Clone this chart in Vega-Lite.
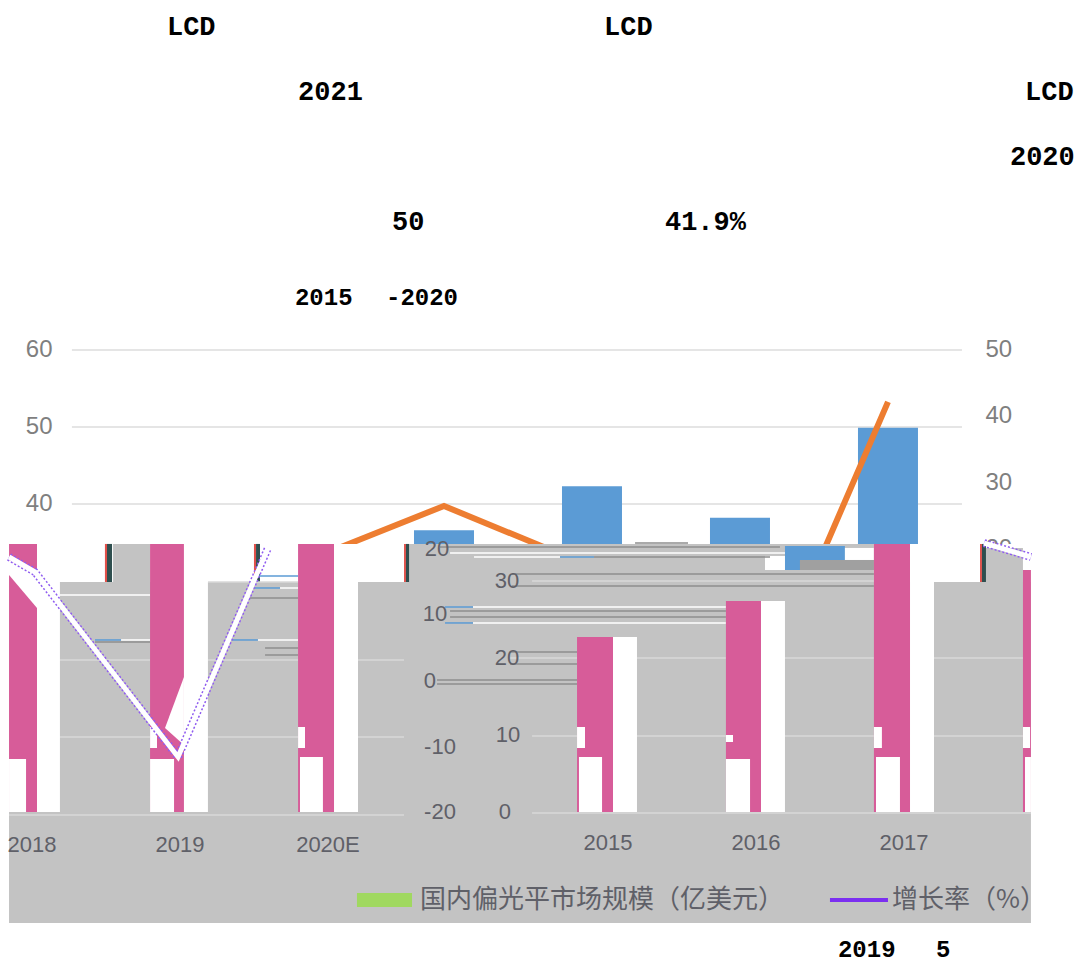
{
"$schema":"https://vega.github.io/schema/vega-lite/v6.json",
"width":1082,"height":965,"padding":0,
"autosize":{"type":"none"},
"background":"white",
"config":{"view":{"stroke":null}},
"datasets":{
"grid":[{"year":2011.486,"year2":2017.5,"value":60,"kind":"light"},{"year":2011.486,"year2":2017.5,"value":50,"kind":"light"},{"year":2011.486,"year2":2017.5,"value":40,"kind":"light"}],
"market":[{"year":2014,"value":36.6},{"year":2015,"value":42.3},{"year":2016,"value":38.2},{"year":2017,"value":49.9}],
"growth":[{"year":2013,"value":17.5},{"year":2014,"value":26.4},{"year":2015,"value":17.2},{"year":2016,"value":-9.6},{"year":2017,"value":42.1}],
"under":[
{"year":2011.061,"year2":2017.966,"value":34.81,"value2":-14.42,"kind":"white"},
{"year":2011.061,"year2":2017.966,"value":29.87,"value2":-14.42,"kind":"gray"},
{"year":2011.764,"year2":2012.014,"value":34.81,"value2":29.87,"kind":"gray"},
{"year":2013.757,"year2":2016.905,"value":34.81,"value2":29.87,"kind":"gray"},
{"year":2017.649,"year2":2017.912,"value":34.29,"value2":29.87,"kind":"gray"},
{"year":2016.304,"year2":2016.709,"value":34.55,"value2":31.43,"kind":"blue"},
{"year":2016.709,"year2":2016.905,"value":34.29,"value2":32.73,"kind":"white"},
{"year":2016.405,"year2":2016.905,"value":32.73,"value2":31.43,"kind":"darkgray"},
{"year":2016.169,"year2":2016.304,"value":33.25,"value2":31.43,"kind":"white"},
{"year":2011.709,"year2":2011.723,"value":34.81,"value2":29.87,"kind":"red"},
{"year":2011.723,"year2":2011.757,"value":34.81,"value2":29.87,"kind":"slate"},
{"year":2012.716,"year2":2012.73,"value":34.81,"value2":29.87,"kind":"red"},
{"year":2012.73,"year2":2012.757,"value":34.81,"value2":29.87,"kind":"slate"},
{"year":2013.73,"year2":2013.743,"value":34.81,"value2":29.87,"kind":"red"},
{"year":2013.743,"year2":2013.764,"value":34.81,"value2":29.87,"kind":"slate"},
{"year":2017.622,"year2":2017.635,"value":34.81,"value2":29.87,"kind":"red"},
{"year":2017.635,"year2":2017.662,"value":34.81,"value2":29.87,"kind":"slate"}
],
"streaks":[
{"year":2011.405,"year2":2012.014,"value":28.18,"kind":"white"},
{"year":2011.642,"year2":2011.818,"value":22.34,"kind":"blue"},
{"year":2011.818,"year2":2012.014,"value":22.34,"kind":"white"},
{"year":2011.642,"year2":2012.014,"value":22.08,"kind":"dark"},
{"year":2011.405,"year2":2012.014,"value":19.74,"kind":"light"},
{"year":2011.405,"year2":2012.014,"value":9.74,"kind":"light"},
{"year":2012.405,"year2":2013.014,"value":19.74,"kind":"light"},
{"year":2012.405,"year2":2013.014,"value":9.74,"kind":"light"},
{"year":2013.419,"year2":2013.73,"value":19.74,"kind":"light"},
{"year":2013.419,"year2":2013.73,"value":9.74,"kind":"light"},
{"year":2012.405,"year2":2013.014,"value":29.87,"kind":"light"},
{"year":2012.568,"year2":2012.743,"value":22.34,"kind":"blue"},
{"year":2012.743,"year2":2013.014,"value":22.34,"kind":"white"},
{"year":2012.743,"year2":2013.014,"value":30.65,"kind":"blue"},
{"year":2012.723,"year2":2012.892,"value":29.09,"kind":"blue"},
{"year":2012.892,"year2":2013.014,"value":29.09,"kind":"white"},
{"year":2012.689,"year2":2013.014,"value":27.79,"kind":"dark"},
{"year":2012.791,"year2":2013.014,"value":21.3,"kind":"dark"},
{"year":2012.791,"year2":2013.014,"value":20.39,"kind":"dark"},
{"year":2011.061,"year2":2013.73,"value":-0.39,"kind":"light"},
{"year":2014.446,"year2":2014.899,"value":20,"kind":"light"},
{"year":2015.304,"year2":2015.905,"value":20,"kind":"light"},
{"year":2016.142,"year2":2016.905,"value":20,"kind":"light"},
{"year":2017.311,"year2":2017.912,"value":20,"kind":"light"},
{"year":2014.595,"year2":2017.912,"value":9.87,"kind":"light"},
{"year":2014.595,"year2":2017.966,"value":-0.13,"kind":"light"},
{"year":2013.973,"year2":2016.27,"value":34.42,"kind":"dark"},
{"year":2014.041,"year2":2016.304,"value":33.64,"kind":"white"},
{"year":2014.203,"year2":2014.784,"value":33.12,"kind":"white"},
{"year":2014.784,"year2":2015.014,"value":33.12,"kind":"blue"},
{"year":2015.014,"year2":2016.203,"value":33.12,"kind":"dark"},
{"year":2014.459,"year2":2016.905,"value":30.91,"kind":"dark"},
{"year":2014.459,"year2":2016.905,"value":29.35,"kind":"dark"},
{"year":2014.595,"year2":2016.905,"value":30,"kind":"light"},
{"year":2014.196,"year2":2015.905,"value":26.62,"kind":"white"},
{"year":2014.196,"year2":2015.905,"value":24.55,"kind":"white"},
{"year":2014.041,"year2":2015.905,"value":26.1,"kind":"dark"},
{"year":2014.041,"year2":2015.905,"value":25.32,"kind":"dark"},
{"year":2014.007,"year2":2014.196,"value":26.62,"kind":"blue"},
{"year":2014.007,"year2":2014.196,"value":24.55,"kind":"blue"},
{"year":2014.446,"year2":2014.899,"value":20.78,"kind":"dark"},
{"year":2014.446,"year2":2014.899,"value":19.22,"kind":"dark"},
{"year":2013.953,"year2":2014.899,"value":17.14,"kind":"dark"},
{"year":2013.953,"year2":2014.899,"value":16.62,"kind":"dark"},
{"year":2015.291,"year2":2015.649,"value":34.94,"kind":"dark"}
],
"over":[
{"year":2011.061,"year2":2011.25,"value":34.81,"value2":0,"kind":"pink"},
{"year":2011.061,"year2":2011.176,"value":6.88,"value2":0,"kind":"white"},
{"year":2011.25,"year2":2011.405,"value":34.81,"value2":0,"kind":"white"},
{"year":2012.014,"year2":2012.243,"value":34.81,"value2":0,"kind":"pink"},
{"year":2012.014,"year2":2012.176,"value":6.88,"value2":0,"kind":"white"},
{"year":2012.243,"year2":2012.405,"value":34.81,"value2":0,"kind":"white"},
{"year":2012.014,"year2":2012.061,"value":11.04,"value2":8.31,"kind":"white"},
{"year":2013.014,"year2":2013.257,"value":34.81,"value2":0,"kind":"pink"},
{"year":2013.027,"year2":2013.182,"value":7.14,"value2":0,"kind":"white"},
{"year":2013.257,"year2":2013.419,"value":34.81,"value2":0,"kind":"white"},
{"year":2013.014,"year2":2013.061,"value":11.04,"value2":8.31,"kind":"white"},
{"year":2014.899,"year2":2015.142,"value":22.73,"value2":0,"kind":"pink"},
{"year":2014.912,"year2":2015.068,"value":7.14,"value2":0,"kind":"white"},
{"year":2015.142,"year2":2015.304,"value":22.73,"value2":0,"kind":"white"},
{"year":2014.899,"year2":2014.953,"value":11.04,"value2":8.31,"kind":"white"},
{"year":2015.905,"year2":2016.142,"value":27.4,"value2":0,"kind":"pink"},
{"year":2015.905,"year2":2016.068,"value":6.88,"value2":0,"kind":"white"},
{"year":2016.142,"year2":2016.304,"value":27.4,"value2":0,"kind":"white"},
{"year":2015.905,"year2":2015.953,"value":10,"value2":9.09,"kind":"white"},
{"year":2016.905,"year2":2017.149,"value":34.81,"value2":0,"kind":"pink"},
{"year":2016.919,"year2":2017.081,"value":7.14,"value2":0,"kind":"white"},
{"year":2017.149,"year2":2017.311,"value":34.81,"value2":0,"kind":"white"},
{"year":2016.905,"year2":2016.959,"value":11.04,"value2":8.31,"kind":"white"},
{"year":2017.912,"year2":2017.966,"value":31.43,"value2":0,"kind":"pink"},
{"year":2017.926,"year2":2017.966,"value":7.14,"value2":0,"kind":"white"},
{"year":2017.912,"year2":2017.96,"value":11.04,"value2":8.31,"kind":"white"},
{"year":2013.412,"year2":2013.784,"value":-10.52,"value2":-12.34,"kind":"green"},
{"year":2016.608,"year2":2017,"value":-11.17,"value2":-11.69,"kind":"purple"}
],
"wedges":[
{"series":"a","year":2011.061,"value":32.73,"value2":30.78},{"series":"a","year":2011.25,"value":30.78,"value2":26.49},
{"series":"b","year":2012.115,"value":10.91,"value2":10.91},{"series":"b","year":2012.243,"value":17.53,"value2":8.7}
],
"trend":[
{"series":"a","year":2011.061,"value":18.7},{"series":"a","year":2011.236,"value":16.44},{"series":"a","year":2012.203,"value":-11.46},{"series":"a","year":2012.811,"value":20.06},
{"series":"b","year":2017.649,"value":20.8},{"series":"b","year":2017.966,"value":18.7}
],
"ticks":[
{"year":2013.953,"value":34.16,"label":"20"},{"year":2014.426,"value":30,"label":"30"},{"year":2013.939,"value":25.71,"label":"10"},{"year":2014.426,"value":20,"label":"20"},{"year":2013.905,"value":17.01,"label":"0"},{"year":2014.432,"value":10,"label":"10"},{"year":2013.973,"value":8.44,"label":"-10"},{"year":2013.973,"value":0,"label":"-20"},{"year":2014.412,"value":0,"label":"0"},
{"year":2011.216,"value":-4.29,"label":"2018"},{"year":2012.216,"value":-4.29,"label":"2019"},{"year":2013.216,"value":-4.29,"label":"2020E"},{"year":2015.108,"value":-4.03,"label":"2015"},{"year":2016.108,"value":-4.03,"label":"2016"},{"year":2017.108,"value":-4.03,"label":"2017"}
],
"legend":[{"year":2013.838,"value":-11.43,"label":"国内偏光平市场规模（亿美元）"},{"year":2017.027,"value":-11.43,"label":"增长率（%）"}],
"head":[
{"year":2012.128,"value":101.95,"label":"LCD"},{"year":2015.081,"value":101.95,"label":"LCD"},{"year":2013.014,"value":93.51,"label":"2021"},{"year":2017.926,"value":93.51,"label":"LCD"},{"year":2017.824,"value":85.06,"label":"2020"},{"year":2013.649,"value":76.62,"label":"50"},{"year":2015.493,"value":76.62,"label":"41.9%"}
],
"note":[{"year":2012.993,"value":66.75,"label":"2015"},{"year":2013.608,"value":66.75,"label":"-2020"},{"year":2016.662,"value":-17.92,"label":"2019"},{"year":2017.324,"value":-17.92,"label":"5"}]
},
"encoding":{
"x":{"field":"year","type":"quantitative","scale":{"domain":[2011,2018.311],"nice":false,"zero":false,"padding":0},"axis":null},
"y":{"field":"value","type":"quantitative","scale":{"domain":[-19.87,105.45],"nice":false,"zero":false},"axis":null}
},
"layer":[
{"data":{"name":"grid"},"mark":{"type":"rule","strokeWidth":1.5,"color":"#dddddd"},
 "encoding":{"x2":{"field":"year2"},
 "y":{"field":"value","type":"quantitative","scale":{"domain":[-19.87,105.45],"nice":false,"zero":false},
  "axis":{"orient":"left","values":[40,50,60],"offset":-52,"domain":false,"ticks":false,"grid":false,"labelPadding":0,"labelFont":"Liberation Sans","labelFontSize":24,"labelColor":"#7f7f7f","title":null}}}},
{"data":{"name":"market"},"mark":{"type":"bar","width":60,"color":"#5b9bd5","orient":"vertical"},
 "encoding":{"y2":{"datum":0}}},
{"data":{"name":"growth"},"mark":{"type":"line","color":"#ed7d31","strokeWidth":6},
 "encoding":{"y":{"field":"value","type":"quantitative","scale":{"domain":[-42.84,102.71],"nice":false,"zero":false},
  "axis":{"orient":"right","values":[20,30,40,50],"offset":-97,"domain":false,"ticks":false,"grid":false,"labelPadding":0,"labelFont":"Liberation Sans","labelFontSize":24,"labelColor":"#7f7f7f","title":null}}}},
{"data":{"name":"under"},"mark":{"type":"rect"},
 "encoding":{"x2":{"field":"year2"},"y2":{"field":"value2"},
 "color":{"field":"kind","type":"nominal","legend":null,"scale":{"domain":["white","gray","pink","blue","darkgray","red","slate","green","purple","dark","light"],"range":["#ffffff","#c3c3c3","#d75c99","#5b9bd5","#a0a0a0","#e0504a","#2f4f4f","#a0d860","#7b2ff0","#8e8e8e","#d9d9d9"]}}}},
{"data":{"name":"streaks"},"mark":{"type":"rule","strokeWidth":1.5},
 "encoding":{"x2":{"field":"year2"},
 "color":{"field":"kind","type":"nominal","legend":null,"scale":{"domain":["white","gray","pink","blue","darkgray","red","slate","green","purple","dark","light"],"range":["#ffffff","#c3c3c3","#d75c99","#5b9bd5","#a0a0a0","#e0504a","#2f4f4f","#a0d860","#7b2ff0","#8e8e8e","#d9d9d9"]}}}},
{"data":{"name":"over"},"mark":{"type":"rect"},
 "encoding":{"x2":{"field":"year2"},"y2":{"field":"value2"},
 "color":{"field":"kind","type":"nominal","legend":null,"scale":{"domain":["white","gray","pink","blue","darkgray","red","slate","green","purple","dark","light"],"range":["#ffffff","#c3c3c3","#d75c99","#5b9bd5","#a0a0a0","#e0504a","#2f4f4f","#a0d860","#7b2ff0","#8e8e8e","#d9d9d9"]}}}},
{"data":{"name":"wedges"},"mark":{"type":"area","color":"#ffffff","opacity":1},
 "encoding":{"detail":{"field":"series"},"y2":{"field":"value2"}}},
{"data":{"name":"trend"},"mark":{"type":"line","color":"#8f5cf0","strokeWidth":8,"strokeDash":[2,2]},
 "encoding":{"detail":{"field":"series"},"y":{"field":"value","type":"quantitative","scale":{"domain":[-42.84,102.71],"nice":false,"zero":false},"axis":null}}},
{"data":{"name":"trend"},"mark":{"type":"line","color":"#ffffff","strokeWidth":5},
 "encoding":{"detail":{"field":"series"},"y":{"field":"value","type":"quantitative","scale":{"domain":[-42.84,102.71],"nice":false,"zero":false},"axis":null}}},
{"data":{"name":"ticks"},"mark":{"type":"text","font":"Liberation Sans","fontSize":22,"color":"#5f6068","align":"center","baseline":"middle"},
 "encoding":{"text":{"field":"label"}}},
{"data":{"name":"legend"},"mark":{"type":"text","font":"Noto Sans CJK SC","fontSize":26,"color":"#5f6068","align":"left","baseline":"middle"},
 "encoding":{"text":{"field":"label"}}},
{"data":{"name":"head"},"mark":{"type":"text","font":"Liberation Mono","fontWeight":"bold","fontSize":27,"color":"#000000","align":"left","baseline":"middle"},
 "encoding":{"text":{"field":"label"}}},
{"data":{"name":"note"},"mark":{"type":"text","font":"Liberation Mono","fontWeight":"bold","fontSize":24,"color":"#000000","align":"left","baseline":"middle"},
 "encoding":{"text":{"field":"label"}}}
],
"resolve":{"scale":{"y":"independent"}}
}
